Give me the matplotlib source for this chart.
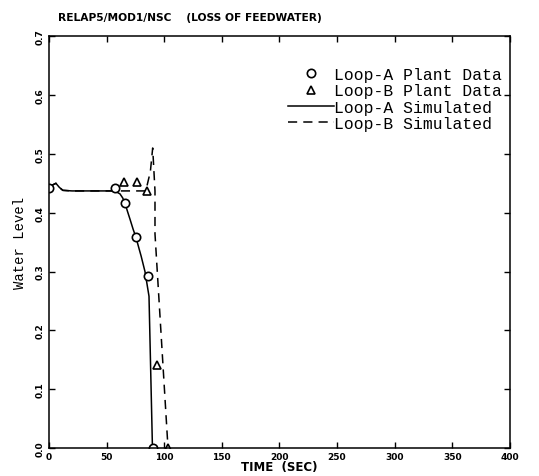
import matplotlib
matplotlib.use("Agg")
import matplotlib.pyplot as plt

# Plant data
loopA_t = [0, 57.3, 66.0, 75.5, 86.0, 90.2]
loopA_y = [0.442, 0.442, 0.416, 0.358, 0.292, 0.0]
loopB_t = [65.0, 76.4, 85.0, 93.7, 103.3]
loopB_y = [0.452, 0.452, 0.437, 0.141, 0.0]

# Simulated
simA_t = [0, 3, 6, 9, 12, 20, 50, 57, 61.6, 64, 66, 68, 70.3, 73, 75.5, 78, 80, 83.3, 86.8, 89.8]
simA_y = [0.442, 0.447, 0.450, 0.443, 0.438, 0.437, 0.437, 0.437, 0.432, 0.425, 0.416, 0.403, 0.389, 0.372, 0.358, 0.34, 0.326, 0.30, 0.258, 0.0]
simB_t = [0, 3, 6, 9, 12, 20, 50, 80, 84, 88, 90, 92, 92, 103.3]
simB_y = [0.442, 0.447, 0.450, 0.443, 0.438, 0.437, 0.437, 0.437, 0.437, 0.47, 0.51, 0.437, 0.364, 0.0]

xticks = [0, 50, 100, 150, 200, 250, 300, 350, 400]
xticklabels = ["0", "50", "100", "150", "200", "250", "300", "350", "400"]
yticks = [0.0, 0.1, 0.2, 0.3, 0.4, 0.5, 0.6, 0.7]
yticklabels = ["0.0", "0.1", "0.2", "0.3", "0.4", "0.5", "0.6", "0.7"]

fig = plt.figure(figsize=(5.39, 4.77), dpi=100)
ax = fig.add_axes([0.0909, 0.0587, 0.855, 0.8633])

ax.plot(simA_t, simA_y, color="black", lw=1.1, label="Loop-A Simulated")
ax.plot(simB_t, simB_y, color="black", lw=1.1, linestyle=(0, (6, 4)), label="Loop-B Simulated")
ax.plot(loopA_t, loopA_y, linestyle="none", marker="o", mfc="white", mec="black", ms=6, mew=1.2,
        label="Loop-A Plant Data")
ax.plot(loopB_t, loopB_y, linestyle="none", marker="^", mfc="white", mec="black", ms=6, mew=1.2,
        label="Loop-B Plant Data")

ax.set_xlim(0, 400)
ax.set_ylim(0, 0.7)
ax.set_xticks(xticks)
ax.set_xticklabels(xticklabels, fontsize=6.5, fontweight="bold")
ax.set_yticks(yticks)
ax.set_yticklabels(yticklabels, fontsize=6.5, fontweight="bold", rotation=90, va="center")
ax.tick_params(direction="in", top=True, right=True, length=4, width=1, pad=3)
for s in ax.spines.values():
    s.set_linewidth(1.1)

ax.set_xlabel("TIME  (SEC)", fontsize=8.5, fontweight="bold", labelpad=-1)
ax.set_ylabel("Water Level", fontsize=10, family="Liberation Mono", labelpad=6)
fig.text(0.108, 0.962, "RELAP5/MOD1/NSC    (LOSS OF FEEDWATER)", fontsize=7.7, fontweight="bold",
         ha="left", va="center")

handles, labels = ax.get_legend_handles_labels()
order = [2, 3, 0, 1]
ax.legend([handles[i] for i in order], [labels[i] for i in order], loc="upper left",
          bbox_to_anchor=(0.50, 0.945), frameon=False, prop={"family": "Liberation Mono", "size": 11.8},
          handlelength=2.8, handletextpad=0.05, labelspacing=0.08, borderpad=0.0, numpoints=1)

fig.savefig("out.png", dpi=100)
